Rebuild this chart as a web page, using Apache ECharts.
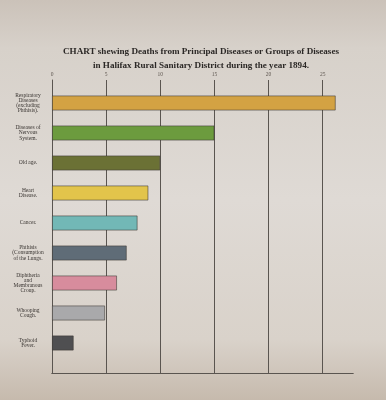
<!DOCTYPE html>
<html>
<head>
<meta charset="utf-8">
<script src="https://cdn.jsdelivr.net/npm/echarts@6/dist/echarts.min.js"></script>
<style>
html,body{margin:0;padding:0;}
#c{width:386px;height:400px;}
</style>
</head>
<body>
<div id="c"></div>
<script>
const categories = [
  "Respiratory\nDiseases\n(excluding\nPhthisis).",
  "Diseases of\nNervous\nSystem.",
  "Old age.",
  "Heart\nDisease.",
  "Cancer.",
  "Phthisis\n(Consumption\nof the Lungs.",
  "Diphtheria\nand\nMembranous\nCroup.",
  "Whooping\nCough.",
  "Typhoid\nFever."
];
const deaths = [26.2, 15, 10, 8.9, 7.9, 6.9, 6, 4.9, 2];
const tickValues = [0, 5, 10, 15, 20, 25];
const barColors = ["#d3a243", "#6c9b3e", "#6b7135", "#e2c44b", "#72b8b6", "#5f6c77", "#d78c9d", "#a9a9ab", "#4f4f51"];
const titleLines = [
  "CHART shewing Deaths from Principal Diseases or Groups of Diseases",
  "in Halifax Rural Sanitary District during the year 1894."
];

const chart = echarts.init(document.getElementById('c'), null, {renderer: 'canvas'});
const XMAX = 27.8;
const lineColor = '#5a5550';
chart.setOption({
  backgroundColor: {
    type: 'linear', x: 0, y: 0, x2: 0, y2: 1,
    colorStops: [
      {offset: 0, color: '#cbc2b9'},
      {offset: 0.12, color: '#d7d1ca'},
      {offset: 0.5, color: '#dfdad5'},
      {offset: 0.85, color: '#d9d2ca'},
      {offset: 1, color: '#c6baad'}
    ]
  },
  title: {
    text: titleLines.join('\n'),
    left: 201, top: 45, textAlign: 'center', padding: 0,
    textStyle: {fontFamily: 'Liberation Serif', fontWeight: 'bold', fontSize: 9.1, lineHeight: 14, color: '#2b2826'}
  },
  grid: [
    {left: 52, right: 33, top: 80, height: 293},
    {left: 52, right: 33, top: 88, height: 270}
  ],
  xAxis: [
    {
      gridIndex: 0, type: 'value', position: 'top', min: 0, max: XMAX, interval: 5,
      axisLine: {show: true, lineStyle: {color: lineColor, width: 1}},
      axisTick: {show: false},
      axisLabel: {show: true, fontSize: 5.5, color: '#5e5650', margin: 2, fontFamily: 'Liberation Serif', showMaxLabel: false,
        formatter: v => tickValues.indexOf(v) >= 0 ? String(v) : ''},
      splitLine: {show: true, showMinLine: false, showMaxLine: false, lineStyle: {color: lineColor, width: 1}}
    },
    {
      gridIndex: 0, type: 'value', position: 'bottom', min: 0, max: XMAX,
      axisLine: {show: true, lineStyle: {color: lineColor, width: 1}},
      axisTick: {show: false}, axisLabel: {show: false}, splitLine: {show: false}
    },
    {
      gridIndex: 1, type: 'value', min: 0, max: XMAX, show: false
    }
  ],
  yAxis: [
    {
      gridIndex: 0, type: 'value', min: 0, max: 1,
      axisLine: {show: true, lineStyle: {color: lineColor, width: 1}},
      axisTick: {show: false}, axisLabel: {show: false}, splitLine: {show: false}
    },
    {
      gridIndex: 1, type: 'category', inverse: true, data: categories,
      axisLine: {show: false}, axisTick: {show: false},
      axisLabel: {show: true, align: 'center', margin: 24, fontSize: 5.5, lineHeight: 5.2,
        fontFamily: 'Liberation Serif', color: '#3a3532'}
    }
  ],
  series: [{
    type: 'bar', xAxisIndex: 2, yAxisIndex: 1,
    barWidth: 15,
    data: deaths.map((v, i) => ({value: v, itemStyle: {color: barColors[i]}})),
    itemStyle: {borderColor: 'rgba(60,55,50,0.7)', borderWidth: 0.8},
    silent: true, animation: false
  }],
  animation: false
});
</script>
</body>
</html>
